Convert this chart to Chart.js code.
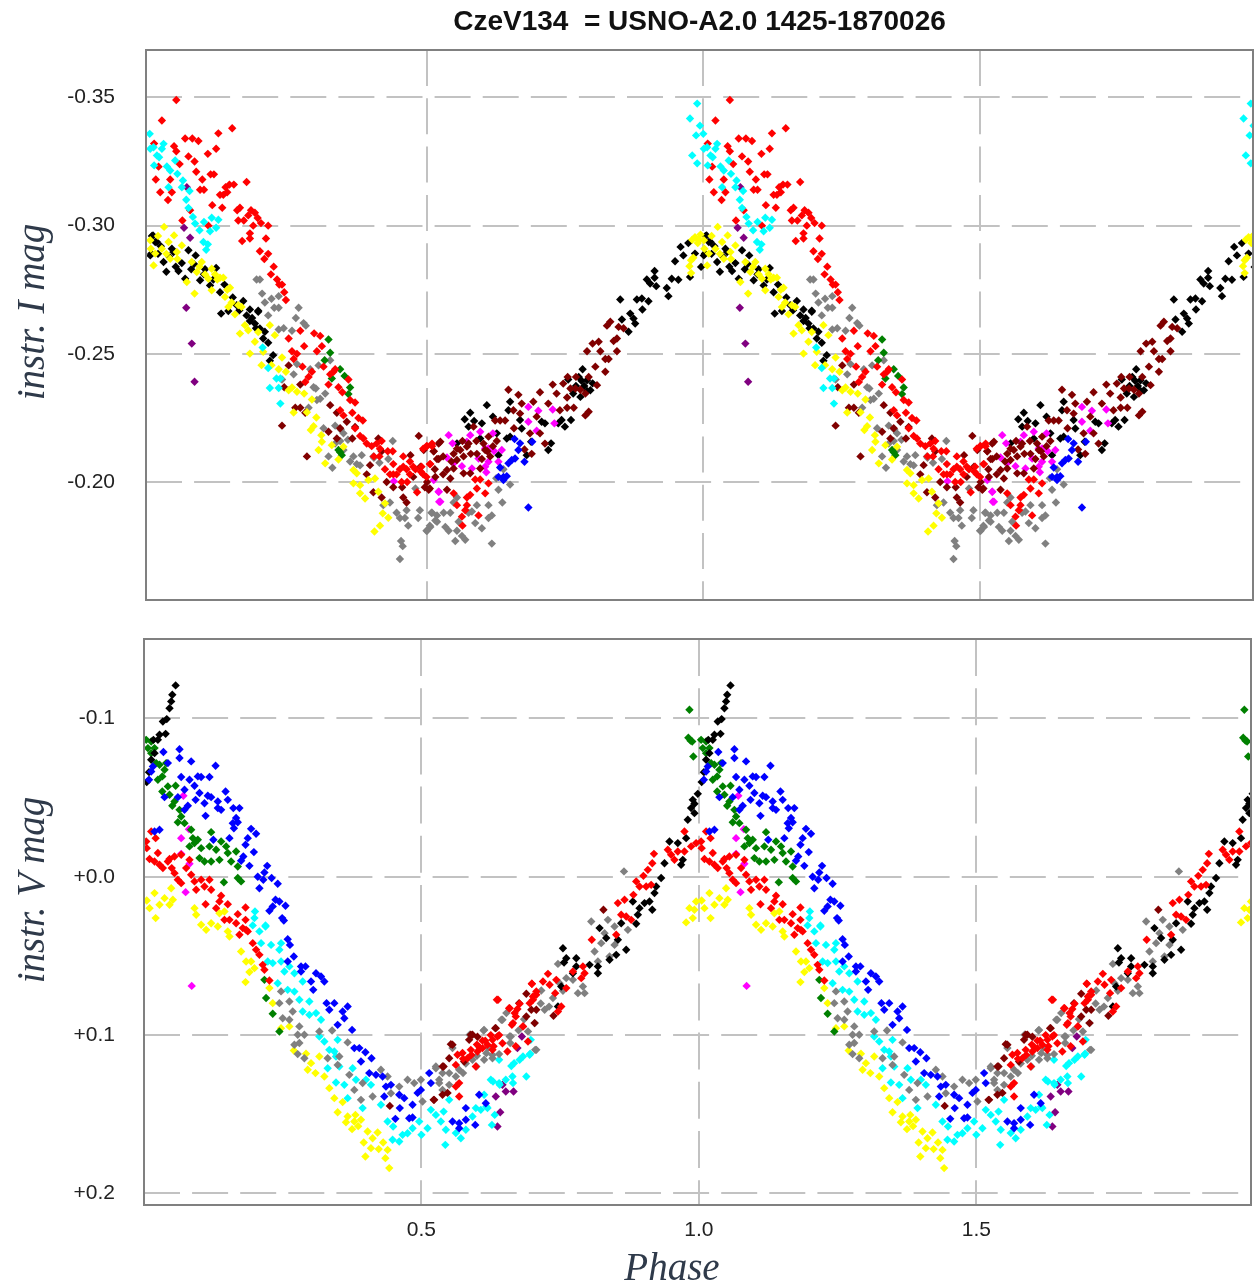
<!DOCTYPE html>
<html>
<head>
<meta charset="utf-8">
<title>CzeV134</title>
<script src="https://cdn.jsdelivr.net/npm/chart.js@4/dist/chart.umd.min.js"></script>
<style>
  body { margin: 0; background: #fff; width: 1255px; height: 1285px; position: relative; overflow: hidden; }
  canvas { position: absolute; left: 0; }
  .axisName { position: absolute; width: 300px; height: 44px; line-height: 44px; text-align: center;
    font: italic 39px "Liberation Serif", serif; color: #2f3a4a; white-space: nowrap; }
  .axisName.side { left: -120px; transform: rotate(-90deg); }
</style>
</head>
<body>
<canvas id="chartI" width="1255" height="620" style="top:0"></canvas>
<canvas id="chartV" width="1255" height="665" style="top:620px"></canvas>
<div class="axisName side" style="top:290px">instr. I mag</div>
<div class="axisName side" style="top:868px">instr. V mag</div>
<div class="axisName" style="left:522px;top:1244px">Phase</div>
<script>
// [phase, instr. mag], one array per colour
const iRed = [[.048,-.349],[.022,-.341],[.008,-.332],[.064,-.334],[.077,-.334],[.088,-.333],[.124,-.336],[.149,-.338],[.044,-.331],[.048,-.329],[.105,-.328],[.12,-.33],[.07,-.327],[.081,-.325],[.054,-.324],[.016,-.323],[.084,-.321],[.011,-.318],[.037,-.318],[.095,-.318],[.11,-.32],[.116,-.32],[.019,-.313],[.04,-.313],[.033,-.31],[.091,-.314],[.098,-.314],[.175,-.317],[.152,-.316],[.144,-.316],[.137,-.315],[.14,-.313],[.127,-.312],[.133,-.312],[.113,-.308],[.131,-.307],[.163,-.307],[.158,-.306],[.073,-.306],[.059,-.302],[.16,-.302],[.17,-.302],[.183,-.306],[.19,-.305],[.178,-.304],[.195,-.303],[.187,-.3],[.201,-.301],[.214,-.3],[.106,-.3],[.181,-.297],[.181,-.295],[.167,-.294],[.21,-.295],[.199,-.29],[.214,-.289],[.207,-.287],[.224,-.284],[.219,-.281],[.23,-.279],[.234,-.277],[.239,-.277],[.243,-.274],[.246,-.271],
  [.272,-.259],[.297,-.258],[.308,-.257],[.251,-.256],[.279,-.253],[.311,-.253],[.302,-.251],[.257,-.251],[.266,-.25],[.26,-.248],[.276,-.245],[.314,-.245],[.335,-.244],[.326,-.242],[.332,-.243],[.293,-.243],[.287,-.241],[.281,-.239],[.323,-.238],[.341,-.237],[.348,-.235],[.359,-.24],[.362,-.232],[.371,-.231],[.344,-.228],[.35,-.226],[.366,-.227],[.377,-.225],[.385,-.224],[.371,-.221],[.38,-.218],[.386,-.217],[.392,-.215],[.401,-.214],[.41,-.215],[.419,-.216],[.439,-.212],[.416,-.213],[.458,-.21],[.44,-.207],[.425,-.205],[.458,-.206],[.464,-.205],[.434,-.203],[.446,-.203],[.507,-.207],[.501,-.214],[.51,-.215],[.483,-.196],[.47,-.203],[.452,-.205],[.476,-.206],[.49,-.204],
  [.494,-.213],[.5,-.214],[.51,-.214],[.491,-.206],[.5,-.202],[.506,-.207],[.494,-.203],[.588,-.201],[.597,-.201],[.612,-.1995],[.591,-.1975],[.606,-.1956],[.579,-.195],[.573,-.194],[.555,-.191],[.573,-.191],[.57,-.189],[.594,-.187],[.564,-.1865],[.565,-.183],[.549,-.1956],[.405,-.21],[.415,-.21],[.43,-.212],[.44,-.203],[.455,-.2],[.47,-.208],[.48,-.205],[.465,-.2]];
const iGray = [[.193,-.279],[.199,-.279],[.203,-.2735],[.22,-.2715],[.233,-.2725],[.208,-.27],[.225,-.268],[.233,-.268],[.269,-.268],[.214,-.265],[.264,-.264],[.278,-.262],[.282,-.261],[.242,-.26],[.233,-.2595],[.257,-.259],[.326,-.2475],[.305,-.2455],[.266,-.246],[.26,-.242],[.29,-.244],[.239,-.24],[.296,-.237],[.3,-.2365],[.317,-.2345],[.308,-.2325],[.302,-.232],[.287,-.229],[.314,-.221],[.335,-.222],[.35,-.219],[.344,-.216],[.335,-.215],[.323,-.21],[.33,-.2056],[.368,-.21],[.374,-.207],[.362,-.208],[.383,-.2105],[.404,-.21],[.431,-.209],[.439,-.216],[.48,-.1975],[.422,-.191],[.434,-.192],[.446,-.188],[.452,-.186],[.464,-.189],[.461,-.186],[.467,-.183],[.488,-.189],[.485,-.186],[.51,-.188],[.516,-.185],[.501,-.181],[.507,-.1825],[.454,-.177],[.457,-.175],[.452,-.17],
  [.509,-.188],[.519,-.187],[.531,-.188],[.543,-.188],[.5,-.181],[.506,-.183],[.519,-.1845],[.534,-.1825],[.54,-.181],[.555,-.181],[.552,-.177],[.564,-.179],[.57,-.1775],[.558,-.1845],[.588,-.184],[.6,-.182],[.618,-.187],[.612,-.186],[.576,-.188],[.591,-.191],[.612,-.191],[.637,-.192],[.63,-.197],[.651,-.199],[.618,-.176],[.555,-.194],[.549,-.192],[.582,-.1885],[.639,-.205],[.626,-.2015],[.405,-.2095],[.415,-.2075],[.35,-.2125],[.38,-.2065],[.345,-.2205],[.358,-.2165]];
const iMaroon = [[.239,-.222],[.284,-.21],[.243,-.237],[.251,-.2455],[.272,-.238],[.263,-.229],[.272,-.229],[.281,-.227],[.326,-.23],[.338,-.227],[.356,-.2235],[.371,-.2215],[.366,-.217],[.344,-.221],[.323,-.2196],[.338,-.217],[.413,-.217],[.486,-.218],[.471,-.2105],[.419,-.212],[.398,-.2066],[.392,-.203],[.404,-.196],[.419,-.194],[.428,-.2],[.44,-.198],[.456,-.198],[.458,-.194],[.464,-.192],[.476,-.202],[.489,-.206],[.495,-.2125],[.513,-.212],[.504,-.197],[.501,-.2],[.516,-.202],[.519,-.209],[.522,-.215],
  [.648,-.236],[.666,-.234],[.705,-.235],[.728,-.238],[.747,-.2384],[.735,-.2345],[.754,-.233],[.672,-.2306],[.693,-.2313],[.657,-.228],[.669,-.2267],[.72,-.2306],[.633,-.224],[.624,-.224],[.642,-.224],[.699,-.2255],[.741,-.228],[.766,-.229],[.754,-.229],[.787,-.226],[.793,-.2274],[.769,-.2365],[.778,-.236],[.787,-.2345],[.808,-.2378],[.793,-.241],[.823,-.243],[.805,-.245],[.823,-.248],[.829,-.248],[.814,-.251],[.844,-.251],[.79,-.251],[.8,-.254],[.811,-.2547],[.838,-.255],[.844,-.256],[.826,-.261],[.832,-.2625],[.847,-.2605],[.856,-.26],[.687,-.219],[.705,-.219],[.658,-.221],[.714,-.215],[.677,-.2127],[.69,-.211],[.627,-.216],[.612,-.2177],[.603,-.215],[.585,-.2216],[.573,-.2138],[.561,-.2125],[.567,-.21],[.549,-.211],[.525,-.2157],[.513,-.212],[.522,-.209],[.537,-.2047],[.549,-.2053],[.567,-.2034],[.579,-.2034],[.597,-.2053],[.615,-.21],[.543,-.2014],[.497,-.198],[.506,-.1975],[.537,-.197],[.591,-.211],[.606,-.2125],[.555,-.2086],[.576,-.215],[.53,-.21],[.545,-.208],[.555,-.213],[.565,-.216],[.58,-.211],[.59,-.216],[.6,-.209],[.61,-.212],[.62,-.214],[.515,-.205],[.53,-.203],[.76,-.2365],[.755,-.241],[.77,-.241]];
const iBlack = [[.004,-.296],[.01,-.2936],[.001,-.2884],[.025,-.2858],[.03,-.282],[.04,-.291],[.043,-.2897],[.07,-.2904],[.083,-.2884],[.058,-.2854],[.052,-.2823],[.064,-.2793],[.091,-.2787],[.12,-.2835],[.109,-.2767],[.127,-.274],[.129,-.2657],[.157,-.269],[.169,-.2706],[.181,-.2673],[.196,-.2664],[.142,-.2667],[.181,-.2628],[.19,-.2618],[.199,-.2599],[.208,-.2586],[.214,-.2543],[.223,-.2495],[.217,-.2473],[.196,-.2668],
  [.006,-.2962],[.973,-.2932],[.013,-.2936],[.959,-.2917],[.964,-.2884],[.985,-.2891],[.949,-.2861],[.003,-.2891],[.996,-.2839],[.976,-.28],[.912,-.2823],[.912,-.2797],[.898,-.279],[.904,-.2774],[.915,-.2764],[.943,-.2793],[.955,-.2789],[.934,-.2757],[.937,-.2725],[.85,-.2712],[.88,-.2712],[.889,-.2716],[.901,-.2705],[.89,-.2673],[.868,-.2657],[.874,-.2638],[.853,-.2634],[.877,-.2618],[.865,-.2586],[.782,-.244],[.756,-.24],[.775,-.241],[.79,-.2397],[.796,-.2358],[.778,-.2332],[.609,-.23],[.579,-.227],[.569,-.2245],[.586,-.2238],[.6,-.2229],[.576,-.2216],[.62,-.2255],[.651,-.2313],[.648,-.228],[.669,-.2242],[.672,-.2209],[.708,-.2235],[.744,-.2242],[.738,-.2229],[.75,-.2216],[.761,-.2242],[.714,-.2229],[.645,-.217],[.63,-.2105],[.72,-.2125],[.725,-.2151],[.689,-.2157],[.681,-.2105],[.597,-.217],[.555,-.2151],[.627,-.219],[.651,-.2177],
  [.015,-.289],[.02,-.292],[.035,-.288],[.047,-.284],[.075,-.283],[.08,-.285],[.098,-.281],[.1,-.283],[.115,-.279],[.135,-.277],[.15,-.272],[.162,-.267],[.175,-.265],[.185,-.264],[.192,-.26],[.205,-.256],[.77,-.2375],[.785,-.2375],[.765,-.2345],[.78,-.2395],[.79,-.2355],[.8,-.2385]];
const iYellow = [[.026,-.2995],[.044,-.2962],[.001,-.2943],[.002,-.291],[.034,-.2936],[.022,-.291],[.058,-.2923],[.049,-.2897],[.037,-.2871],[.01,-.2891],[.007,-.2845],[.076,-.2858],[.094,-.2858],[.085,-.2819],[.112,-.2832],[.106,-.2793],[.127,-.2797],[.133,-.2797],[.067,-.278],[.112,-.2748],[.145,-.2758],[.081,-.2735],[.136,-.2722],[.142,-.2683],[.166,-.2683],[.154,-.2654],[.172,-.2612],[.178,-.2592],[.163,-.2579],[.196,-.2585],[.217,-.2612],[.226,-.2573],[.19,-.2547],[.181,-.2501],[.205,-.2508],[.239,-.2486],[.202,-.2456],[.233,-.244],[.22,-.2456],[.246,-.243],[.257,-.2369],[.251,-.2358],[.266,-.2352],[.279,-.2345],[.293,-.2322],[.26,-.2271],[.284,-.2272],[.301,-.2252],[.296,-.2218],[.291,-.2203],[.31,-.2183],[.311,-.2157],[.329,-.2144],[.305,-.2125],[.35,-.2138],[.341,-.2088],[.317,-.2073],[.368,-.2047],[.374,-.2034],[.368,-.1995],[.38,-.1988],[.38,-.1956],[.389,-.1936],[.395,-.2008],[.407,-.2014],[.413,-.1962],[.425,-.1917],[.421,-.1878],[.431,-.1861],[.416,-.183],[.406,-.1807],[.975,-.2842],[.985,-.2955],[.99,-.2932],[.995,-.2965],
  [.015,-.296],[.03,-.289],[.05,-.287],[.09,-.284],[.1,-.281],[.118,-.281],[.122,-.279],[.14,-.275],[.148,-.27],[.16,-.269],[.98,-.2945],[.992,-.2945],[.978,-.2865],[.982,-.2875],[.978,-.2815]];
const iCyan = [[.0,-.3358],[.001,-.33],[.007,-.3306],[.025,-.3319],[.022,-.33],[.013,-.3274],[.017,-.3267],[.008,-.3235],[.046,-.3254],[.031,-.3231],[.037,-.3215],[.05,-.3202],[.06,-.3176],[.034,-.315],[.058,-.315],[.072,-.3135],[.066,-.3101],[.07,-.3069],[.078,-.3034],[.082,-.3008],[.098,-.3014],[.112,-.3031],[.124,-.3023],[.12,-.2992],[.09,-.2982],[.109,-.2978],[.097,-.2936],[.105,-.2927],[.102,-.2906],[.204,-.2525],[.214,-.2445],[.229,-.2404],[.236,-.2404],[.217,-.2367],[.233,-.2367],[.236,-.2306],[.989,-.3476],[.976,-.3418],[.994,-.339],[.987,-.3352],[.98,-.3274],[.989,-.3243]];
const iGreen = [[.323,-.2556],[.326,-.2504],[.316,-.2475],[.344,-.244],[.352,-.2414],[.329,-.2404],[.362,-.2369],[.359,-.2343],[.344,-.2116],[.341,-.2125],[.347,-.2105]];
const iPurple = [[.067,-.315],[.062,-.2992],[.073,-.2953],[.066,-.268],[.076,-.254],[.081,-.2391]];
const iMagenta = [[.441,-.2003],[.513,-.2008],[.522,-.1962],[.523,-.1923],[.54,-.2183],[.547,-.2151],[.579,-.2183],[.597,-.2196],[.573,-.2157],[.62,-.219],[.537,-.2096],[.549,-.2073],[.564,-.2062],[.582,-.2053],[.594,-.2092],[.606,-.2131],[.612,-.2131],[.622,-.2121],[.636,-.2125],[.63,-.2079],[.612,-.2079],[.606,-.206],[.608,-.2038],[.684,-.2293],[.702,-.2278],[.728,-.2283],[.684,-.2235],[.731,-.2229],[.699,-.22],[.522,-.1962],[.525,-.1923]];
const iBlue = [[.659,-.2168],[.669,-.2151],[.666,-.2125],[.691,-.2157],[.654,-.2086],[.66,-.2092],[.648,-.2073],[.677,-.2079],[.633,-.2057],[.63,-.202],[.639,-.202],[.645,-.2023],[.639,-.2008],[.684,-.1901]];

const vBlack = [[.057,-.1209],[.051,-.115],[.049,-.1108],[.046,-.1065],[.041,-.0996],[.034,-.0981],[.039,-.0903],[.028,-.0897],[.025,-.0865],[.017,-.0865],[.013,-.0739],[.009,-.0661],[.005,-.0598],[.019,-.0781],
  [.998,-.0524],[.989,-.0486],[.992,-.0461],[.986,-.0434],[.992,-.0402],[.98,-.036],[.977,-.0244],[.947,-.0223],[.962,-.0213],[.971,-.0107],[.968,-.0076],[.938,-.0086],[.932,.0008],[.923,.0061],[.92,.0103],[.911,.0156],[.902,.0166],[.916,.0208],[.893,.0198],[.89,.024],[.881,.0156],[.887,.0297],[.821,.0324],[.86,.0293],[.833,.0387],[.854,.0398],[.869,.0461],[.851,.0493],[.839,.0524],[.755,.0451],[.761,.0514],[.757,.0541],[.779,.0514],[.779,.0566],[.803,.0556],[.818,.0566],[.818,.0609],[.773,.0609],[.752,.0693],[.746,.0819]];
const vGreen = [[.004,-.0865],[.013,-.0855],[.007,-.0813],[.019,-.0813],[.013,-.0781],[.022,-.0718],[.028,-.0708],[.04,-.0718],[.037,-.0676],[.033,-.0634],[.025,-.0613],[.033,-.0539],[.043,-.0571],[.057,-.0575],[.046,-.0518],[.055,-.0476],[.051,-.0449],[.064,-.0423],[.067,-.0381],[.061,-.0345],[.073,-.0339],[.085,-.0297],[.088,-.0244],[.097,-.0234],[.082,-.0192],[.091,-.0213],[.121,-.0282],[.103,-.0181],[.118,-.0192],[.13,-.0171],[.139,-.0223],[.148,-.0192],[.151,-.015],[.166,-.016],[.1,-.0118],[.109,-.0097],[.121,-.0097],[.136,-.0107],[.157,-.0097],[.169,-.0065],[.169,.0008],[.175,.0029],[.144,.0034],[.217,.0651],[.22,.0766],[.232,.0865],[.244,.0977],[.983,-.1055],[.981,-.0878],[.985,-.086],[.988,-.0855],[.99,-.076]];
const vBlue = [[.064,-.0806],[.064,-.075],[.035,-.0788],[.085,-.0729],[.129,-.0701],[.043,-.0718],[.016,-.0697],[.013,-.0665],[.009,-.0613],[.067,-.063],[.082,-.0613],[.097,-.0634],[.103,-.063],[.118,-.063],[.091,-.0575],[.073,-.055],[.147,-.0539],[.1,-.0529],[.115,-.0512],[.121,-.0503],[.037,-.0503],[.061,-.0503],[.093,-.0486],[.109,-.0465],[.133,-.0476],[.151,-.0486],[.079,-.0449],[.073,-.0423],[.133,-.0434],[.139,-.0423],[.161,-.0434],[.172,-.0434],[.111,-.0385],[.166,-.0371],[.16,-.0339],[.169,-.0345],[.162,-.0307],[.019,-.0286],[.028,-.0297],[.193,-.0303],[.202,-.0272],[.187,-.0244],[.154,-.0244],[.125,-.0234],[.183,-.0202],[.198,-.0156],[.179,-.0128],[.175,-.0101],[.19,-.0069],[.222,-.0069],[.217,-.0027],[.205,.0],[.215,.0019],[.23,.0008],[.241,.0044],[.208,.0072],[.237,.0145],[.244,.0156],[.255,.0183],[.232,.0187],[.226,.0215],[.249,.0261],[.252,.0276],[.259,.0394],
  [.263,.043],[.27,.0503],[.259,.0535],[.283,.0566],[.291,.0566],[.283,.0598],[.301,.0661],[.305,.0714],[.31,.0609],[.319,.063],[.325,.0661],[.329,.0798],[.343,.0798],[.367,.0819],[.334,.084],[.358,.0851],[.361,.0893],[.349,.0935],[.375,.0967],[.379,.1082],[.388,.1082],[.399,.1108],[.41,.1146],[.391,.1167],[.406,.124],[.418,.1251],[.43,.1261],[.436,.1325],[.433,.1388],[.445,.1314],[.46,.1377],[.469,.1398],[.484,.144],[.461,.1461],[.453,.1529],[.478,.1525],[.484,.152],[.499,.1346],[.514,.124],[.517,.1303],[.493,.1365],[.58,.1461],[.604,.1377],[.616,.143],[.556,.1546],[.568,.1556],[.568,.1588],[.58,.1535],[.597,.1567]];
const vMagenta = [[.071,-.0512],[.081,-.0301],[.067,-.0244],[.067,-.0145],[.082,-.0082],[.075,.0097],[.086,.0689]];
const vRed = [[.013,-.0286],[.021,-.0244],[.004,-.0223],[.005,-.0181],[.025,-.015],[.01,-.0112],[.019,-.0097],[.028,-.0076],[.034,-.0055],[.043,-.0097],[.046,-.0112],[.055,-.0128],[.067,-.0139],[.05,-.0055],[.082,-.0107],[.076,-.0055],[.055,-.0023],[.061,.0019],[.067,.004],[.085,-.0013],[.091,.0029],[.103,.0019],[.118,.0019],[.094,.0082],[.109,.0061],[.121,.0082],[.139,.012],[.136,.0156],[.13,.0198],[.111,.0173],[.151,.0173],[.183,.0194],[.169,.0236],[.145,.0272],[.154,.0272],[.183,.0272],[.166,.0293],[.178,.0324],[.187,.0345],[.172,.0366],[.184,.0335],[.196,.0419],[.202,.0461],[.208,.0493],[.214,.0556],[.217,.0587],[.226,.0655],
  [.568,.1303],[.562,.1325],[.568,.1388],[.562,.1188],[.565,.1124],[.574,.1113],[.583,.1146],[.589,.1093],[.601,.1103],[.598,.1198],[.61,.1082],[.619,.1061],[.628,.103],[.637,.1009],[.646,.1051],[.655,.1103],[.628,.1093],[.636,.0777],[.663,.0935],[.67,.107],[.67,.0882],[.658,.083],[.683,.0945],[.673,.0835],[.699,.0676],[.701,.0777],[.707,.0745],[.692,.104],
  [.638,.0777],[.659,.083],[.677,.0802],[.668,.0861],[.665,.0924],[.683,.0945],[.695,.0798],[.701,.0756],[.707,.0724],[.699,.0676],[.719,.0661],[.728,.0613],[.731,.0682],[.741,.0735],[.752,.0819],[.746,.0851],[.743,.0651],[.761,.0703],[.773,.0598],[.791,.0566],[.794,.0609],[.788,.064],[.807,.0398],[.851,.0366],[.854,.0166],[.866,.0145],[.86,.024],[.869,.0251],[.878,.0272],[.882,.0114],[.887,.0029],[.893,.0061],[.905,.0061],[.914,.0051],[.908,-.0044],[.916,-.0086],[.919,-.0145],[.9,-.0006],[.944,-.0171],[.95,-.0139],[.956,-.0107],[.962,-.016],[.974,-.0286],[.974,-.016],[.986,-.0192],[.995,-.0213],
  [.59,.1125],[.605,.108],[.615,.1035],[.625,.1],[.64,.1],[.61,.1035],[.6,.106],[.63,.107],[.575,.115]];
const vGray = [[.865,-.0034],[.806,.0282],[.836,.0272],[.848,.0314],[.872,.0335],[.83,.0356],[.824,.0419],[.812,.0472],[.848,.043],[.839,.0503],[.818,.0535],[.746,.055],[.761,.064],[.749,.0672],[.773,.0651],[.791,.0693],[.782,.0735],[.794,.0735],[.716,.0718],[.737,.0766],[.722,.084],[.653,.0861],[.644,.0903],[.612,.0971],[.587,.0998],[.659,.1009],[.692,.0977],[.705,.1093],[.617,.1114],[.628,.1146],[.599,.1198],[.568,.1219],[.55,.124],[.538,.124],[.526,.1209],[.532,.1303],[.55,.1314],
  [.247,.0724],[.262,.0788],[.244,.0798],[.268,.0851],[.25,.0893],[.262,.0903],[.28,.0945],[.277,.0998],[.289,.0998],[.271,.1061],[.28,.105],[.277,.112],[.289,.1146],[.316,.0977],[.339,.0971],[.331,.1146],[.367,.1046],[.352,.1135],[.349,.1188],[.37,.1251],[.379,.1346],[.394,.1303],[.391,.1409],[.412,.1388],[.427,.1219],[.439,.1261],[.445,.1367],[.46,.1325],[.475,.1282],[.487,.1303],[.499,.1282],[.502,.1419],[.526,.1198],[.532,.1282],[.538,.1346],[.556,.1082],[.562,.1261],[.613,.0967],[.592,.1156],[.613,.1156],[.628,.1125],[.661,.1009],[.646,.0903],[.704,.0924],[.707,.1093],
  [.6,.113],[.58,.118],[.575,.124],[.62,.108],[.64,.112],[.66,.105],[.675,.097],[.685,.09],[.715,.08],[.73,.082],[.755,.072]];
const vMaroon = [[.689,.0739],[.698,.084],[.707,.084],[.676,.0798],[.689,.0882],[.633,.0956],[.592,.0998],[.586,.103],[.601,.101],[.556,.1061],[.55,.1146],[.577,.1167],[.538,.1377],[.547,.1365],[.523,.1409],[.443,.1447],[.54,.1198],[.828,.0208],[.738,.0878],[.704,.0924],[.589,.0998],[.634,.0956],[.553,.1057],[.538,.1198],[.522,.1409]];
const vCyan = [[.2,.0219],[.199,.0261],[.196,.0307],[.219,.0307],[.208,.0345],[.219,.0314],[.211,.0419],[.229,.043],[.247,.0419],[.244,.0461],[.223,.0535],[.232,.0545],[.247,.0535],[.262,.0566],[.253,.0598],[.271,.0609],[.241,.0672],[.286,.0661],[.259,.0714],[.271,.0725],[.28,.0777],[.298,.0788],[.286,.0851],[.298,.0872],[.31,.0861],[.319,.0903],[.316,.1009],[.325,.104],[.349,.103],[.334,.1093],[.343,.1103],[.346,.1135],[.331,.1209],[.352,.1198],[.346,.1299],[.376,.1209],[.361,.1314],[.367,.1398],[.382,.1282],[.4,.1282],[.409,.1314],[.394,.1461],[.427,.144],[.439,.1546],[.449,.1577],[.448,.1661],[.46,.1672],[.466,.163],[.475,.162],[.484,.1588],[.496,.1546],[.511,.1588],[.5,.163],[.517,.1472],[.526,.1504],[.535,.1546],[.544,.1598],[.543,.1693],[.54,.1483],[.55,.1409],[.562,.1619],[.571,.1651],[.58,.1598],[.592,.1514],[.607,.1472],[.613,.1377],[.619,.146],[.627,.1567],[.632,.1504],[.625,.1282],[.64,.1303],[.64,.1156],[.652,.1282],[.664,.1261],[.667,.1177],[.683,.1135],[.689,.1261],[.696,.1118],[.697,.103],[.662,.1195],[.677,.1156],[.695,.1124],[.629,.1293],[.641,.1314],[.665,.1303],[.617,.1451],[.598,.1461]];
const vYellow = [[.021,.0261],[.01,.0198],[.005,.015],[.019,.0103],[.028,.0177],[.037,.0135],[.049,.0072],[.052,.0145],[.046,.0177],[.091,.0198],[.094,.024],[.103,.0303],[.112,.0335],[.121,.0293],[.133,.0314],[.136,.023],[.145,.0219],[.151,.0345],[.154,.0377],[.175,.0472],[.184,.0535],[.193,.0535],[.199,.0577],[.19,.0602],[.183,.0665],[.226,.0703],[.232,.0798],[.247,.0956],[.262,.0945],[.27,.1097],[.292,.1118],[.316,.1135],[.301,.1177],[.295,.1219],[.309,.124],[.325,.1261],[.334,.1335],[.343,.1398],[.358,.1423],[.349,.1487],[.367,.1514],[.381,.1504],[.364,.155],[.379,.1546],[.391,.1535],[.375,.1594],[.386,.1575],[.403,.1609],[.421,.1615],[.412,.1651],[.396,.1678],[.409,.1714],[.423,.172],[.431,.1678],[.439,.1725],[.399,.1767],[.435,.1777],[.442,.184],[.977,.0288],[.983,.0198],[.989,.0261],[.995,.0156],[.992,.0208]];
const vPurple = [[.681,.1009],[.673,.1082],[.634,.1388],[.646,.1314],[.652,.1356],[.666,.1356],[.642,.1487],[.637,.1577]];

const iTickValues = [-0.35, -0.30, -0.25, -0.20];
const iTickLabels = ["-0.35", "-0.30", "-0.25", "-0.20"];
const vTickValues = [-0.1, 0, 0.1, 0.2];
const vTickLabels = ["-0.1", "+0.0", "+0.1", "+0.2"];
const phaseTicks = [0.5, 1.0, 1.5];
const phaseLabels = ["0.5", "1.0", "1.5"];

const GRID = "#c2c2c2";
const TEXT = "#222";

// the light curve is folded, so each point shows up again one cycle later
function twoCycles(points) {
  const rows = [];
  points.forEach(p => rows.push({ x: p[0], y: p[1] }));
  points.forEach(p => rows.push({ x: p[0] + 1, y: p[1] }));
  return rows;
}

function makeSet(points, color) {
  return {
    data: twoCycles(points),
    pointStyle: "rectRot",
    pointRadius: 4.2,
    pointBackgroundColor: color,
    pointBorderWidth: 0,
    showLine: false,
  };
}

const framePlugin = {
  id: "frame",
  afterDraw(chart) {
    const a = chart.chartArea;
    const ctx = chart.ctx;
    ctx.save();
    ctx.strokeStyle = "#808080";
    ctx.lineWidth = 2;
    ctx.strokeRect(a.left, a.top, a.right - a.left, a.bottom - a.top);
    ctx.restore();
  },
};

function makeChart(id, cfg) {
  return new Chart(document.getElementById(id), {
    type: "scatter",
    data: { datasets: cfg.datasets },
    plugins: [framePlugin],
    options: {
      responsive: false,
      animation: false,
      layout: { autoPadding: false, padding: { top: cfg.padTop, right: cfg.padRight, left: 0, bottom: 0 } },
      plugins: {
        legend: { display: false },
        tooltip: { enabled: false },
        title: cfg.title ? {
          display: true,
          text: cfg.title,
          fullSize: false,
          color: "#111",
          font: { family: "Liberation Sans", size: 28, weight: "bold" },
          padding: { top: 5, bottom: 11.4 },
        } : { display: false },
      },
      scales: {
        x: {
          type: "linear",
          min: cfg.xMin,
          max: cfg.xMax,
          afterBuildTicks: s => { s.ticks = phaseTicks.map(v => ({ value: v })); },
          afterFit: s => { s.height = cfg.xHeight; },
          grid: { color: GRID, lineWidth: 2, drawTicks: false },
          border: { display: false, dash: cfg.xDash },
          ticks: {
            display: cfg.xLabels,
            padding: 13,
            maxRotation: 0,
            color: TEXT,
            font: { family: "Liberation Sans", size: 21 },
            callback: (v, i) => phaseLabels[i],
          },
        },
        y: {
          type: "linear",
          reverse: true,
          min: cfg.yMin,
          max: cfg.yMax,
          afterBuildTicks: s => { s.ticks = cfg.tickValues.map(v => ({ value: v })); },
          afterFit: s => { s.width = cfg.yWidth; },
          // the gap to the labels comes from an invisible tick, ticks.padding would also eat plot height
          grid: { color: GRID, lineWidth: 2, drawTicks: true, tickLength: cfg.yWidth - 115, tickColor: "rgba(0,0,0,0)" },
          border: { display: false, dash: [36, 12.1] },
          ticks: {
            padding: 0,
            color: TEXT,
            font: { family: "Liberation Sans", size: 21 },
            callback: (v, i) => cfg.tickLabels[i],
          },
        },
      },
    },
  });
}

// first dataset ends up on top
makeChart("chartI", {
  title: "CzeV134  = USNO-A2.0 1425-1870026",
  datasets: [
    makeSet(iCyan, "#00ffff"),
    makeSet(iYellow, "#ffff00"),
    makeSet(iBlue, "#0000ff"),
    makeSet(iRed, "#ff0000"),
    makeSet(iMaroon, "#800000"),
    makeSet(iMagenta, "#ff00ff"),
    makeSet(iBlack, "#000000"),
    makeSet(iGreen, "#008000"),
    makeSet(iGray, "#808080"),
    makeSet(iPurple, "#800080"),
  ],
  padTop: 0, padRight: 2, yWidth: 146, xHeight: 20, xLabels: false, xDash: [36, 12.3],
  xMin: -0.0067, xMax: 1.993, yMin: -0.3685, yMax: -0.154,
  tickValues: iTickValues, tickLabels: iTickLabels,
});

makeChart("chartV", {
  datasets: [
    makeSet(vBlue, "#0000ff"),
    makeSet(vRed, "#ff0000"),
    makeSet(vBlack, "#000000"),
    makeSet(vGreen, "#008000"),
    makeSet(vMagenta, "#ff00ff"),
    makeSet(vMaroon, "#800000"),
    makeSet(vGray, "#808080"),
    makeSet(vCyan, "#00ffff"),
    makeSet(vYellow, "#ffff00"),
    makeSet(vPurple, "#800080"),
  ],
  padTop: 19, padRight: 4, yWidth: 144, xHeight: 80, xLabels: true, xDash: [37, 12.2],
  xMin: 0, xMax: 1.995, yMin: -0.1502, yMax: 0.2073,
  tickValues: vTickValues, tickLabels: vTickLabels,
});
</script>
</body>
</html>
